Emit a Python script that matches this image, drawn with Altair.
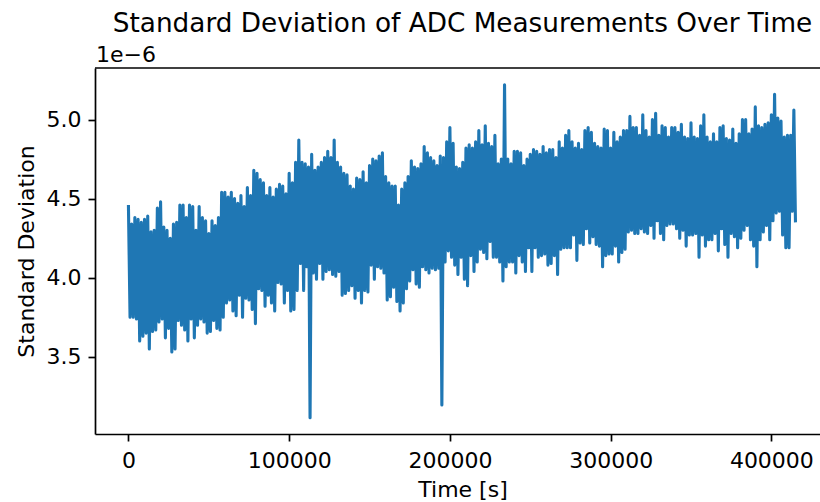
import altair as alt
import pandas as pd

TITLE = "Standard Deviation of ADC Measurements Over Time"
X_TITLE = "Time [s]"
Y_TITLE = "Standard Deviation"
OFFSET_TEXT = "1e\u22126"
X_TICKS = [0, 100000, 200000, 300000, 400000]
Y_TICKS_E6 = [3.5, 4.0, 4.5, 5.0]
STEP = 2000  # seconds between successive local maxima

# local maxima of the noisy series (units of 1e-6), one every STEP seconds
upper_e6 = [
    4.46, 4.34, 4.38, 4.37, 4.35, 4.37, 4.39, 4.29, 4.30, 4.44,
    4.48, 4.32, 4.30, 4.25, 4.34, 4.35, 4.46, 4.46, 4.38, 4.46,
    4.45, 4.30, 4.45, 4.38, 4.36, 4.28, 4.36, 4.33, 4.38, 4.54,
    4.54, 4.51, 4.54, 4.50, 4.47, 4.52, 4.45, 4.57, 4.52, 4.68,
    4.66, 4.62, 4.60, 4.52, 4.57, 4.51, 4.56, 4.59, 4.58, 4.53,
    4.66, 4.60, 4.73, 4.87, 4.73, 4.72, 4.70, 4.78, 4.68, 4.70,
    4.73, 4.76, 4.80, 4.76, 4.87, 4.73, 4.70, 4.66, 4.65, 4.58,
    4.56, 4.63, 4.62, 4.67, 4.60, 4.71, 4.75, 4.74, 4.77, 4.79,
    4.64, 4.60, 4.58, 4.58, 4.46, 4.56, 4.60, 4.64, 4.74, 4.70,
    4.69, 4.72, 4.83, 4.79, 4.76, 4.74, 4.71, 4.77, 4.76, 4.86,
    4.95, 4.85, 4.70, 4.69, 4.73, 4.82, 4.84, 4.82, 4.86, 4.93,
    4.84, 4.96, 4.85, 4.83, 4.90, 4.72, 4.75, 5.22, 4.75, 4.72,
    4.80, 4.80, 4.79, 4.71, 4.75, 4.78, 4.81, 4.80, 4.78, 4.83,
    4.79, 4.81, 4.81, 4.76, 4.86, 4.82, 4.90, 4.93, 4.86, 4.82,
    4.85, 4.81, 4.93, 4.95, 4.92, 4.85, 4.83, 4.82, 4.94, 4.93,
    4.82, 4.92, 4.86, 4.89, 4.93, 4.93, 5.02, 4.95, 4.95, 4.90,
    5.03, 4.93, 4.89, 5.00, 5.04, 4.90, 4.96, 4.95, 4.89, 4.95,
    4.95, 4.92, 4.97, 4.89, 4.88, 4.98, 4.89, 4.88, 4.96, 5.03,
    4.89, 4.86, 4.91, 4.86, 4.95, 4.96, 4.88, 4.87, 4.94, 4.85,
    4.91, 5.00, 5.00, 4.91, 4.94, 5.08, 4.96, 4.95, 4.97, 4.98,
    5.03, 5.16, 5.01, 4.99, 4.89, 4.90, 4.90, 5.06,
]

# local minima of the noisy series (units of 1e-6), half a STEP after each maximum
lower_e6 = [
    3.75, 3.75, 3.74, 3.60, 3.63, 3.65, 3.55, 3.66, 3.67, 3.72,
    3.74, 3.62, 3.68, 3.53, 3.55, 3.73, 3.70, 3.67, 3.60, 3.74,
    3.62, 3.70, 3.74, 3.72, 3.65, 3.66, 3.73, 3.68, 3.67, 3.75,
    3.84, 3.86, 3.79, 3.76, 3.89, 3.75, 3.87, 3.86, 3.80, 3.71,
    3.93, 3.92, 3.82, 3.89, 3.84, 3.79, 3.97, 3.96, 3.84, 3.92,
    3.79, 3.80, 3.92, 4.09, 3.92, 4.07, 3.115, 4.03, 3.99, 4.09,
    3.99, 4.04, 4.05, 4.02, 4.01, 4.04, 3.89, 3.90, 3.92, 3.95,
    3.87, 3.92, 3.84, 3.92, 3.91, 4.08, 3.99, 4.07, 4.06, 4.03,
    3.86, 3.88, 3.94, 3.85, 3.79, 3.84, 3.93, 3.98, 4.05, 3.96,
    3.94, 4.07, 4.05, 4.03, 4.06, 4.05, 4.06, 3.195, 4.10, 4.17,
    4.13, 4.08, 4.02, 4.13, 3.99, 3.95, 4.14, 4.04, 4.10, 4.18,
    4.16, 4.12, 4.23, 4.13, 4.13, 4.10, 3.98, 4.07, 4.10, 4.10,
    4.03, 4.14, 4.10, 4.04, 4.19, 4.04, 4.19, 4.13, 4.14, 4.15,
    4.08, 4.09, 4.14, 4.02, 4.18, 4.19, 4.19, 4.19, 4.27, 4.11,
    4.22, 4.21, 4.31, 4.22, 4.26, 4.21, 4.20, 4.07, 4.14, 4.15,
    4.15, 4.20, 4.10, 4.16, 4.18, 4.29, 4.30, 4.28, 4.28, 4.31,
    4.29, 4.28, 4.33, 4.25, 4.36, 4.28, 4.24, 4.33, 4.34, 4.34,
    4.31, 4.25, 4.30, 4.20, 4.27, 4.27, 4.28, 4.13, 4.27, 4.20,
    4.24, 4.24, 4.28, 4.17, 4.31, 4.21, 4.13, 4.28, 4.26, 4.19,
    4.25, 4.30, 4.33, 4.24, 4.20, 4.07, 4.24, 4.29, 4.33, 4.24,
    4.36, 4.41, 4.42, 4.27, 4.19, 4.19, 4.42, 4.35,
]

rows = []
for i, (u, l) in enumerate(zip(upper_e6, lower_e6)):
    rows.append({"t": i * STEP, "std": u * 1e-6})
    rows.append({"t": i * STEP + STEP // 2, "std": l * 1e-6})
df = pd.DataFrame(rows)

FONT = "DejaVu Sans"
W, H = 725, 366
FS = 22

line = alt.Chart(df).mark_line(
    color="#1f77b4", strokeWidth=3.1, strokeJoin="round"
).encode(
    x=alt.X(
        "t:Q",
        scale=alt.Scale(domain=[-20800, 430260], nice=False, zero=False),
        axis=alt.Axis(
            values=X_TICKS, format="d", title=X_TITLE, grid=False,
            labelFont=FONT, labelFontSize=FS, labelColor="black",
            labelPadding=9, labelFlush=False, labelOverlap=False,
            tickSize=7, tickWidth=1.7, tickColor="black",
            domainColor="black", domainWidth=1.7,
            titleFont=FONT, titleFontSize=FS, titleFontWeight="normal",
            titleColor="black", titleX=367.5, titleY=62,
            titleBaseline="alphabetic", titleAlign="center",
        ),
    ),
    y=alt.Y(
        "std:Q",
        scale=alt.Scale(domain=[3.012e-6, 5.326e-6], nice=False, zero=False),
        axis=alt.Axis(
            values=[v * 1e-6 for v in Y_TICKS_E6],
            labelExpr="format(datum.value * 1e6, '.1f')",
            title=Y_TITLE, grid=False,
            labelFont=FONT, labelFontSize=FS, labelColor="black",
            labelPadding=7, labelFlush=False, labelOverlap=False,
            tickSize=7, tickWidth=1.7, tickColor="black",
            domainColor="black", domainWidth=1.7,
            titleFont=FONT, titleFontSize=FS, titleFontWeight="normal",
            titleColor="black", titleX=-62, titleY=H / 2, titleAngle=270,
            titleBaseline="alphabetic", titleAlign="center",
        ),
    ),
)

top_spine = alt.Chart(pd.DataFrame({"k": [0]})).mark_rule(
    color="black", strokeWidth=1.7
).encode(x=alt.value(0), x2=alt.value(W), y=alt.value(0))

title_txt = alt.Chart(pd.DataFrame({"label": [TITLE]})).mark_text(
    font=FONT, fontSize=26.3, align="center", baseline="alphabetic", color="black"
).encode(text="label:N", x=alt.value(367.5), y=alt.value(-36))

offset_txt = alt.Chart(pd.DataFrame({"label": [OFFSET_TEXT]})).mark_text(
    font=FONT, fontSize=FS, align="left", baseline="alphabetic", color="black"
).encode(text="label:N", x=alt.value(1), y=alt.value(-6))

chart = alt.layer(line, top_spine, title_txt, offset_txt).properties(
    width=W,
    height=H,
    autosize=alt.AutoSizeParams(type="none"),
    padding={"left": 95, "top": 68, "right": 0, "bottom": 68},
).configure(font=FONT).configure_view(stroke=None)

chart.save("out.html", embed_options={"renderer": "svg", "actions": False})
